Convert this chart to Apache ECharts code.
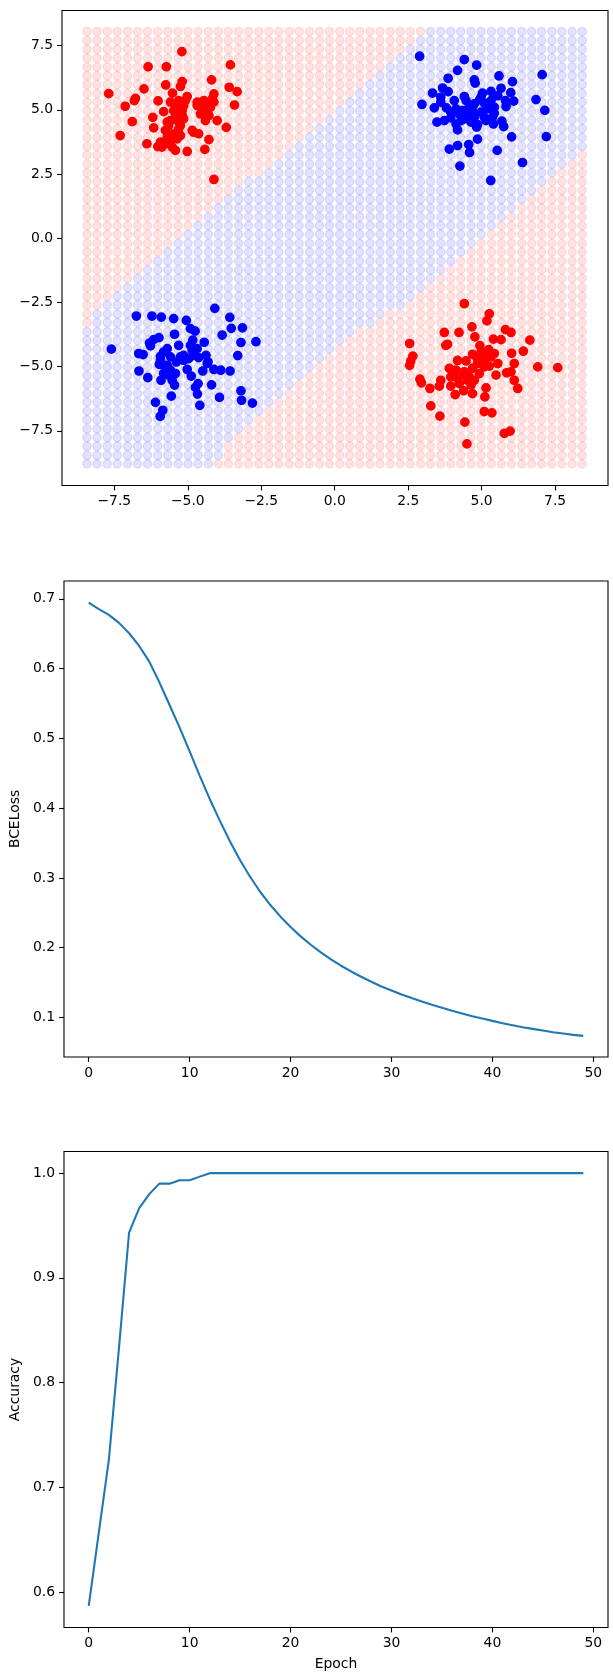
<!DOCTYPE html>
<html><head><meta charset="utf-8">
<script src="https://cdn.jsdelivr.net/npm/echarts@6/dist/echarts.min.js"></script>
<style>html,body{margin:0;padding:0;background:#fff}#c{width:613px;height:1680px}</style>
</head><body><div id="c"></div><script>
// ---------- data: decision-boundary scatter ----------
const redTopLeft = [[-5.20,7.27],[-6.35,6.68],[-5.73,6.68],[-3.55,6.75],[-7.69,5.63],[-6.49,5.82],[-6.78,5.45],[-6.82,5.36],[-7.13,5.14],[-5.75,5.97],[-5.19,6.10],[-5.25,5.91],[-5.52,5.65],[-6.01,5.35],[-5.02,5.52],[-5.59,5.30],[-4.19,6.17],[-3.59,5.88],[-3.32,5.71],[-4.11,5.62],[-4.17,5.43],[-4.45,5.36],[-4.68,5.17],[-3.41,5.19],[-5.82,4.93],[-5.36,5.10],[-5.14,5.17],[-5.42,4.78],[-5.19,4.78],[-6.19,4.71],[-6.89,4.54],[-5.70,4.52],[-6.16,4.30],[-5.76,4.20],[-5.31,4.26],[-5.25,4.39],[-4.40,4.97],[-4.28,4.78],[-4.40,4.58],[-4.00,4.58],[-3.69,4.32],[-4.80,4.13],[-4.63,4.07],[-7.30,4.00],[-6.39,3.68],[-6.02,3.57],[-5.76,3.68],[-5.59,3.81],[-5.36,3.87],[-5.42,3.42],[-5.02,3.38],[-4.28,3.84],[-4.42,3.46],[-4.11,2.29],[-5.48,4.97],[-5.19,4.97],[-5.59,4.58],[-5.36,4.58],[-5.14,4.65],[-4.34,5.17],[-4.57,4.84],[-5.70,3.94],[-4.68,5.30],[-5.88,3.55],[-5.93,3.74],[-5.08,5.36],[-5.31,5.36],[-4.23,5.10],[-5.48,4.07],[-5.65,4.39],[-4.11,5.30],[-4.51,5.04],[-5.25,4.00],[-5.53,3.55],[-4.85,4.20]];
const blueBottomLeft = [[-4.08,-2.73],[-6.75,-3.03],[-6.22,-3.03],[-5.90,-3.07],[-5.48,-3.13],[-5.05,-3.20],[-3.57,-3.08],[-4.91,-3.52],[-4.75,-3.62],[-3.52,-3.51],[-3.14,-3.49],[-5.45,-3.74],[-3.83,-3.77],[-5.98,-3.87],[-6.16,-3.95],[-6.30,-4.08],[-6.27,-4.19],[-5.31,-4.17],[-4.83,-3.97],[-4.44,-4.05],[-3.19,-4.06],[-2.68,-4.03],[-7.60,-4.32],[-6.67,-4.49],[-6.52,-4.53],[-5.70,-4.30],[-5.82,-4.43],[-5.93,-4.60],[-5.14,-4.56],[-4.97,-4.69],[-4.85,-4.36],[-4.68,-4.30],[-4.63,-4.65],[-4.38,-4.56],[-4.31,-4.82],[-3.30,-4.57],[-5.39,-4.82],[-5.70,-4.95],[-5.97,-4.91],[-4.11,-5.11],[-3.88,-5.14],[-3.56,-5.17],[-5.02,-5.11],[-4.49,-5.17],[-6.66,-5.17],[-6.36,-5.43],[-5.91,-5.53],[-5.65,-5.33],[-5.42,-5.27],[-4.88,-5.37],[-4.65,-5.66],[-5.45,-5.72],[-4.74,-5.81],[-4.19,-5.71],[-4.67,-6.07],[-5.56,-6.15],[-3.92,-6.20],[-3.19,-5.94],[-3.17,-6.31],[-2.80,-6.42],[-6.10,-6.39],[-4.59,-6.51],[-5.85,-6.70],[-5.94,-6.94],[-5.59,-5.14],[-5.82,-5.27],[-5.25,-4.62],[-4.80,-4.56],[-5.59,-4.62],[-5.76,-5.04],[-4.91,-4.17],[-5.14,-4.75],[-5.93,-4.75],[-5.53,-5.53],[-4.34,-4.88]];
const blueTopRight = [[2.89,7.09],[4.41,6.96],[4.83,6.74],[4.18,6.54],[7.06,6.37],[5.59,6.32],[3.86,6.23],[4.75,6.17],[4.78,6.04],[6.05,6.10],[3.67,5.85],[3.86,5.71],[3.33,5.65],[5.66,5.84],[5.99,5.67],[5.32,5.72],[5.03,5.65],[4.41,5.52],[4.47,5.36],[3.61,5.30],[2.97,5.21],[3.39,5.08],[3.80,5.08],[4.93,5.40],[5.09,5.26],[5.81,5.36],[6.09,5.34],[6.85,5.40],[5.83,5.13],[5.43,5.10],[4.58,5.13],[4.35,4.97],[4.24,4.84],[3.95,4.69],[4.75,4.71],[5.09,4.71],[5.43,4.87],[7.15,4.98],[3.48,4.52],[3.73,4.58],[4.13,4.45],[4.18,4.22],[4.83,4.33],[4.86,4.43],[5.40,4.45],[5.69,4.56],[5.75,4.35],[6.02,3.95],[7.20,3.96],[4.86,3.86],[4.18,3.61],[3.90,3.47],[4.56,3.65],[4.59,3.34],[5.53,3.42],[6.39,2.95],[4.26,2.81],[5.31,2.25],[5.20,5.04],[4.69,4.97],[4.13,5.04],[4.41,4.65],[4.98,4.91],[3.95,4.91],[5.32,5.36],[4.75,5.23],[4.52,4.84],[4.30,4.58],[3.61,5.49],[5.55,5.55],[5.15,4.58],[4.64,4.52],[4.07,5.36],[5.37,4.71],[4.98,5.49]];
const redBottomRight = [[4.41,-2.55],[5.26,-2.94],[5.18,-3.22],[4.67,-3.45],[3.73,-3.67],[4.23,-3.67],[4.77,-3.84],[5.81,-3.56],[6.00,-3.67],[6.64,-3.97],[5.40,-3.93],[5.66,-3.95],[2.55,-4.10],[3.78,-4.17],[3.84,-4.13],[4.94,-4.18],[6.02,-4.48],[6.42,-4.40],[5.24,-4.34],[5.43,-4.49],[4.69,-4.52],[4.84,-4.65],[2.66,-4.59],[2.59,-4.78],[2.55,-4.95],[4.18,-4.76],[4.47,-4.78],[5.09,-4.75],[5.32,-4.62],[5.26,-4.98],[6.11,-4.88],[6.91,-5.01],[7.59,-5.04],[3.90,-5.07],[4.69,-5.07],[4.41,-5.20],[5.85,-5.24],[6.00,-5.20],[5.49,-5.33],[3.95,-5.40],[4.18,-5.46],[4.52,-5.53],[2.90,-5.49],[2.95,-5.63],[3.61,-5.53],[3.56,-5.76],[3.24,-5.85],[3.95,-5.76],[4.64,-5.72],[6.11,-5.53],[6.23,-5.85],[5.15,-5.83],[5.11,-6.18],[4.10,-6.09],[4.39,-5.94],[4.69,-6.05],[3.27,-6.53],[3.58,-6.93],[5.09,-6.75],[5.35,-6.80],[4.43,-7.16],[5.77,-7.60],[5.97,-7.51],[4.50,-8.01],[5.09,-5.01],[4.86,-4.88],[5.20,-4.56],[4.30,-5.33],[4.13,-5.14],[4.58,-5.40],[4.98,-4.43],[4.24,-5.66],[5.55,-4.88],[4.75,-5.53],[4.92,-5.27]];

// prediction mesh (columns left->right, rows top->bottom) and per-row blue band (column indices)
const gridXs = [-8.43,-8.09,-7.74,-7.40,-7.05,-6.71,-6.37,-6.02,-5.68,-5.33,-4.99,-4.65,-4.30,-3.96,-3.62,-3.27,-2.93,-2.58,-2.24,-1.90,-1.55,-1.21,-0.86,-0.52,-0.18,0.17,0.51,0.85,1.20,1.54,1.89,2.23,2.57,2.92,3.26,3.61,3.95,4.29,4.64,4.98,5.33,5.67,6.01,6.36,6.70,7.04,7.39,7.73,8.08,8.42];
const gridYs = [8.05,7.70,7.36,7.02,6.67,6.33,5.99,5.64,5.30,4.96,4.61,4.27,3.93,3.58,3.24,2.89,2.55,2.21,1.86,1.52,1.18,0.83,0.49,0.15,-0.20,-0.54,-0.89,-1.23,-1.57,-1.92,-2.26,-2.60,-2.95,-3.29,-3.64,-3.98,-4.32,-4.67,-5.01,-5.35,-5.70,-6.04,-6.38,-6.73,-7.07,-7.42,-7.76,-8.10,-8.45,-8.79];
const blueStartCol = [34,33,32,31,30,29,28,27,26,25,24,23,22,21,20,19,18,16,15,14,13,12,11,10,9,8,7,6,5,4,3,2,1,1,0,0,0,0,0,0,0,0,0,0,0,0,0,0,0,0];
const blueEndCol = [49,49,49,49,49,49,49,49,49,49,49,49,49,49,48,47,46,45,44,43,42,41,40,39,38,37,36,35,34,33,32,31,29,28,26,25,24,23,22,21,20,19,18,17,16,15,14,13,13,12];
const scatterTicks = [-7.5,-5,-2.5,0,2.5,5,7.5];

// ---------- data: training curves ----------
const epochs = Array.from({length:50},(_,i)=>i);
const bceLoss = [0.6947,0.6852,0.677,0.6656,0.6507,0.6325,0.61,0.5804,0.5483,0.5158,0.4813,0.4464,0.4129,0.3818,0.3522,0.3254,0.3014,0.2799,0.2612,0.2445,0.2297,0.2163,0.2043,0.1933,0.1833,0.1742,0.166,0.1584,0.1512,0.1445,0.1388,0.133,0.1278,0.123,0.1182,0.1139,0.1096,0.1057,0.1019,0.0986,0.0952,0.0919,0.089,0.0861,0.0837,0.0813,0.0789,0.077,0.0751,0.0737];
const accuracy = [0.5867,0.6567,0.7267,0.8333,0.9433,0.9667,0.98,0.99,0.99,0.9933,0.9933,0.9967,1,1,1,1,1,1,1,1,1,1,1,1,1,1,1,1,1,1,1,1,1,1,1,1,1,1,1,1,1,1,1,1,1,1,1,1,1,1];
const epochTicks = [0,10,20,30,40,50];
const lossTicks = [0.1,0.2,0.3,0.4,0.5,0.6,0.7];
const accTicks = [0.6,0.7,0.8,0.9,1.0];

// ---------- build ----------
const meshRed = [], meshBlue = [];
gridYs.forEach((y,r)=>{
  gridXs.forEach((x,c)=>{
    if (c>=blueStartCol[r] && c<=blueEndCol[r]) meshBlue.push([x,y]); else meshRed.push([x,y]);
  });
});

const FONT = 'DejaVu Sans';
const FS = 13.9;
const minus = v => (v<0?'\u2212':'') + Math.abs(v).toFixed(1);
function valAxis(gi, min, max, ticks, fmt, extra){
  return Object.assign({
    type:'value', gridIndex:gi, min:min, max:max, scale:true,
    axisLine:{show:false, onZero:false},
    splitLine:{show:false},
    axisTick:{show:true, inside:false, length:4.9, lineStyle:{color:'#000', width:1.1}, customValues:ticks},
    axisLabel:{show:true, customValues:ticks, formatter:fmt, color:'#000', fontSize:FS, fontFamily:FONT, margin:9, hideOverlap:false, showMinLabel:true, showMaxLabel:true}
  }, extra||{});
}
const grids = [
  {left:62, top:10.5, width:546, height:475},
  {left:62, top:581, width:546, height:476},
  {left:62, top:1151.5, width:546, height:476}
].map(g=>Object.assign(g,{show:true, borderColor:'#000', borderWidth:1.1, backgroundColor:'transparent', containLabel:false}));

const nameStyle = {color:'#000', fontSize:FS, fontFamily:FONT};
const option = {
  animation:false,
  backgroundColor:'#fff',
  grid: grids,
  xAxis: [
    valAxis(0,-9.28,9.3,scatterTicks,minus),
    valAxis(1,-2.45,51.45,epochTicks,v=>String(v)),
    valAxis(2,-2.45,51.45,epochTicks,v=>String(v),{name:'Epoch', nameLocation:'middle', nameGap:30, nameTextStyle:nameStyle})
  ],
  yAxis: [
    valAxis(0,-9.63,8.87,scatterTicks,minus),
    valAxis(1,0.0434,0.7256,lossTicks,v=>v.toFixed(1),{name:'BCELoss', nameLocation:'middle', nameGap:39, nameRotate:90, nameTextStyle:nameStyle}),
    valAxis(2,0.566,1.0207,accTicks,v=>v.toFixed(1),{name:'Accuracy', nameLocation:'middle', nameGap:39, nameRotate:90, nameTextStyle:nameStyle})
  ],
  series: [
    {type:'scatter', xAxisIndex:0, yAxisIndex:0, data:meshRed, symbol:'circle', symbolSize:8.3, silent:true,
     itemStyle:{color:'rgba(255,0,0,0.11)', borderColor:'rgba(255,0,0,0.11)', borderWidth:1.4, opacity:1}},
    {type:'scatter', xAxisIndex:0, yAxisIndex:0, data:meshBlue, symbol:'circle', symbolSize:8.3, silent:true,
     itemStyle:{color:'rgba(0,0,255,0.11)', borderColor:'rgba(0,0,255,0.11)', borderWidth:1.4, opacity:1}},
    {type:'scatter', xAxisIndex:0, yAxisIndex:0, data:redTopLeft.concat(redBottomRight), symbol:'circle', symbolSize:8.3, silent:true,
     itemStyle:{color:'#ff0000', borderColor:'#ff0000', borderWidth:1.4, opacity:1}},
    {type:'scatter', xAxisIndex:0, yAxisIndex:0, data:blueTopRight.concat(blueBottomLeft), symbol:'circle', symbolSize:8.3, silent:true,
     itemStyle:{color:'#0000ff', borderColor:'#0000ff', borderWidth:1.4, opacity:1}},
    {type:'line', xAxisIndex:1, yAxisIndex:1, data:epochs.map((e,i)=>[e,bceLoss[i]]), symbol:'none', silent:true,
     lineStyle:{color:'#1f77b4', width:2.1}},
    {type:'line', xAxisIndex:2, yAxisIndex:2, data:epochs.map((e,i)=>[e,accuracy[i]]), symbol:'none', silent:true,
     lineStyle:{color:'#1f77b4', width:2.1}}
  ]
};
const chart = echarts.init(document.getElementById('c'), null, {renderer:'canvas', width:613, height:1680});
chart.setOption(option);
</script></body></html>
